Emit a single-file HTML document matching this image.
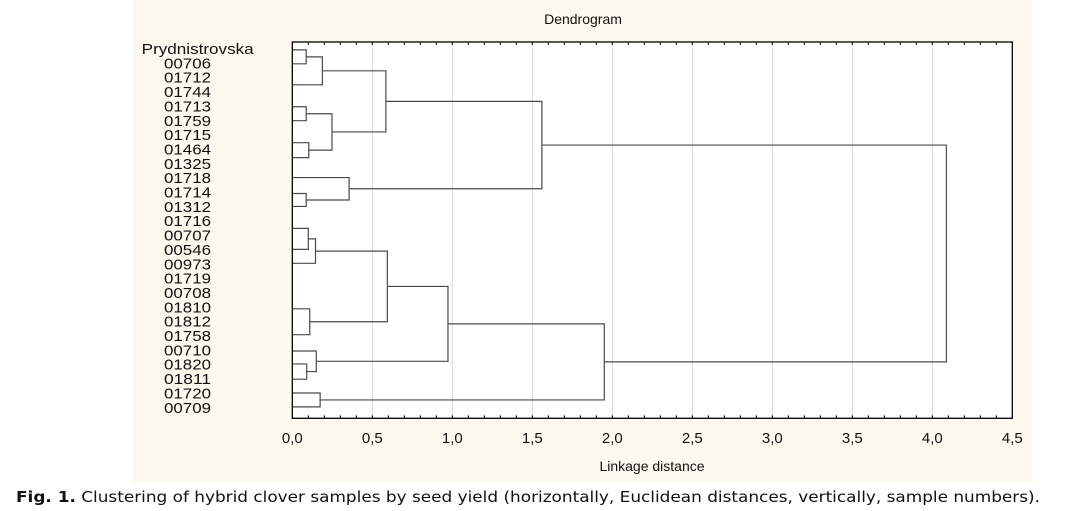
<!DOCTYPE html>
<html><head><meta charset="utf-8"><style>
html,body{margin:0;padding:0;background:#fff;}
svg{display:block;}
text{font-family:"Liberation Sans","DejaVu Sans",sans-serif;fill:#111;}
</style></head><body>
<svg id="chart" width="1066" height="511" viewBox="0 0 1066 511">
<rect x="133" y="0" width="900" height="482" fill="#fef9ee"/>
<rect x="292.3" y="42" width="720" height="376.3" fill="#fff"/>
<text x="583" y="24" font-size="14" text-anchor="middle">Dendrogram</text>
<text x="652" y="471" font-size="14" text-anchor="middle">Linkage distance</text>
<g id="grid"></g><g id="ticks"></g><g id="labels"></g><g id="tree"></g>
<rect x="292.3" y="42" width="720" height="376.3" fill="none" stroke="#000" stroke-width="1.3"/>
<text x="16" y="502" font-size="15.5" textLength="1024" lengthAdjust="spacingAndGlyphs" style="font-family:'DejaVu Sans',sans-serif"><tspan font-weight="bold">Fig. 1.</tspan> Clustering of hybrid clover samples by seed yield (horizontally, Euclidean distances, vertically, sample numbers).</text>
</svg>
<script>
const sampleLabels = ["Prydnistrovska","00706","01712","01744","01713","01759","01715","01464","01325","01718","01714","01312","01716","00707","00546","00973","01719","00708","01810","01812","01758","00710","01820","01811","01720","00709"];
const xTicks = [0,0.5,1,1.5,2,2.5,3,3.5,4,4.5];
const xTickLabels = ["0,0","0,5","1,0","1,5","2,0","2,5","3,0","3,5","4,0","4,5"];
// leaf positions in row units (row 0 = first label)
const leafRows = [0.07,1.04,2.5,4.03,5,6.53,7.57,8.96,10.07,10.97,12.5,13.96,14.93,18.1,19.9,21.04,21.94,23,23.96,24.93];
// merges: node ids 0..19 are leaves, new nodes 20+
const mergeLeft  = [0,20,3,5,22,21,8,7,25,10,29,13,30,16,15,32,18,35,28];
const mergeRight = [1,2,4,6,23,24,9,26,27,11,12,14,31,17,33,34,19,36,37];
const mergeHeight= [0.087,0.188,0.087,0.103,0.248,0.585,0.087,0.355,1.56,0.1,0.145,0.109,0.594,0.09,0.15,0.973,0.174,1.95,4.088];

const NS="http://www.w3.org/2000/svg";
const x0=292.3, pxPerUnit=160, yBase=48.9, rowH=14.36;
const xs = d => x0 + d*pxPerUnit;
const ys = r => yBase + r*rowH;
function mk(tag, attrs, parent){const e=document.createElementNS(NS,tag);for(const k in attrs)e.setAttribute(k,attrs[k]);document.getElementById(parent).appendChild(e);return e;}

xTicks.forEach((t,i)=>{
  if(t>0&&t<4.5){const g=mk('line',{x1:xs(t),x2:xs(t),y1:42,y2:418.3,stroke:'#d8d8d8','stroke-width':1},'grid');
  
  }
  const l=mk('text',{x:xs(t),y:443,'font-size':15,'text-anchor':'middle'},'ticks');
  l.textContent=xTickLabels[i];
  
  
});
for(let v=0.1; v<4.5; v+=0.1){
  const a=mk('line',{x1:xs(v),x2:xs(v),y1:42,y2:45,stroke:'#000','stroke-width':1},'ticks');
  
  
  const b=mk('line',{x1:xs(v),x2:xs(v),y1:415.3,y2:418.3,stroke:'#000','stroke-width':1},'ticks');
  
  
}
sampleLabels.forEach((s,i)=>{
  const isFirst=i===0;
  const t=mk('text',{x:isFirst?141.7:164,y:(54+i*14.35).toFixed(1),'font-size':15,textLength:isFirst?112:47,lengthAdjust:'spacingAndGlyphs'},'labels');
  t.textContent=s;
  
  
});
const nodeY=leafRows.map(r=>ys(r)), nodeH=leafRows.map(()=>0);
mergeLeft.forEach((a,i)=>{
  const b=mergeRight[i], h=mergeHeight[i];
  const xa=xs(nodeH[a]), xb=xs(nodeH[b]), xh=xs(h);
  const p=mk('path',{d:`M${xa},${nodeY[a]}H${xh}V${nodeY[b]}H${xb}`,fill:'none',stroke:'#4a4a4a','stroke-width':1.2},'tree');
  
  
  nodeY.push((nodeY[a]+nodeY[b])/2); nodeH.push(h);
});
</script>
</body></html>
